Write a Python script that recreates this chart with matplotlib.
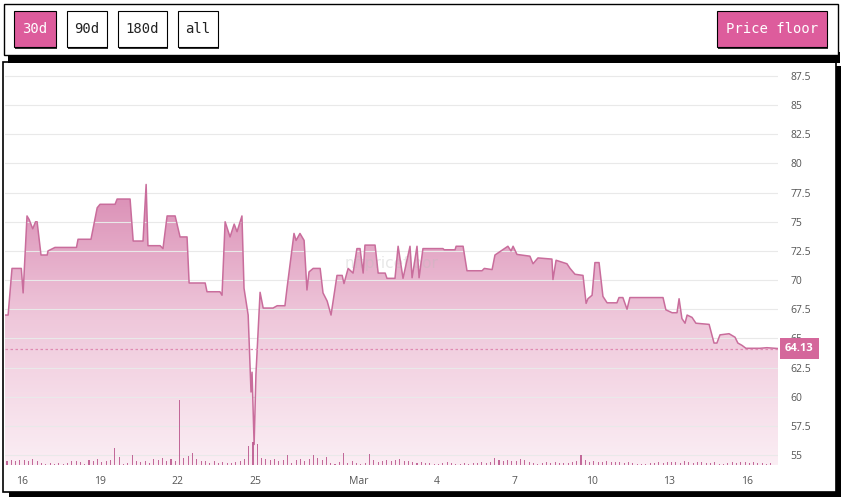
import numpy as np
import matplotlib
matplotlib.use("Agg")
import matplotlib.pyplot as plt
import matplotlib.dates as mdates
from matplotlib.patches import Rectangle
from matplotlib.colors import LinearSegmentedColormap
from datetime import datetime

# floor price, days since 2023-02-15 00:00
price_days = [0.34, 0.46, 0.61, 0.97, 1.04, 1.19, 1.27, 1.41, 1.52, 1.58, 1.73, 1.97, 2.00, 2.27,
              3.10, 3.16, 3.66, 3.90, 4.01, 4.59, 4.67, 5.17, 5.29, 5.67, 5.79, 5.86, 6.21, 6.33,
              6.44, 6.60, 6.91, 7.10, 7.37, 7.45, 8.07, 8.14, 8.64, 8.72, 8.84, 9.03, 9.19, 9.30,
              9.49, 9.57, 9.73, 9.84, 9.88, 9.96, 10.03, 10.19, 10.31, 10.69, 10.85, 11.15, 11.23,
              11.50, 11.58, 11.73, 11.89, 12.00, 12.08, 12.24, 12.51, 12.62, 12.78, 12.93, 13.16,
              13.36, 13.43, 13.59, 13.78, 13.93, 14.05, 14.17, 14.24, 14.63, 14.75, 15.02, 15.09,
              15.40, 15.52, 15.71, 15.98, 16.06, 16.25, 16.33, 16.48, 17.25, 17.30, 17.72, 17.76,
              18.03, 18.18, 18.76, 18.85, 19.15, 19.26, 19.46, 19.76, 19.88, 19.96, 20.11, 20.61,
              20.73, 20.92, 21.46, 21.50, 21.62, 22.04, 22.16, 22.35, 22.66, 22.78, 22.85, 23.01,
              23.12, 23.28, 23.43, 23.59, 23.97, 24.05, 24.20, 24.36, 24.47, 25.75, 25.86, 26.10,
              26.29, 26.37, 26.48, 26.60, 26.68, 26.87, 27.02, 27.53, 27.72, 27.83, 27.95, 28.30,
              28.53, 28.64, 28.80, 28.95, 29.49, 29.76, 30.19]
price_vals = [67.0, 67.0, 71.0, 71.0, 68.9, 75.5, 75.2, 74.4, 75.0, 75.0, 72.15, 72.15, 72.5, 72.8,
              72.8, 73.5, 73.5, 76.2, 76.5, 76.5, 76.95, 76.95, 73.35, 73.35, 78.2, 72.95, 72.95, 72.95,
              72.7, 75.5, 75.5, 73.7, 73.7, 69.75, 69.75, 69.0, 69.0, 68.7, 75.0, 73.7, 74.8, 74.15,
              75.5, 69.3, 67.0, 60.4, 62.1, 55.9, 61.9, 68.95, 67.6, 67.6, 67.8, 67.8, 69.3,
              74.0, 73.4, 74.0, 73.4, 69.15, 70.7, 71.0, 71.0, 68.9, 68.2, 67.0, 70.4,
              70.4, 69.7, 71.0, 70.6, 72.7, 72.7, 70.6, 73.0, 73.0, 70.6, 70.6, 70.15,
              70.15, 72.9, 70.15, 72.9, 70.2, 72.9, 70.2, 72.7, 72.7, 72.6, 72.6, 72.9,
              72.9, 70.8, 70.8, 71.0, 70.9, 72.15, 72.45, 72.9, 72.5, 72.9, 72.2, 72.05,
              71.4, 71.9, 71.8, 70.05, 71.7, 71.4, 71.0, 70.5, 70.4, 68.0, 68.4, 68.7,
              71.5, 71.5, 68.6, 68.05, 68.05, 68.5, 68.5, 67.5, 68.5, 68.5, 67.45, 67.2,
              67.2, 68.4, 66.7, 66.3, 67.0, 66.8, 66.3, 66.2, 64.6, 64.6, 65.3, 65.4,
              65.1, 64.6, 64.4, 64.15, 64.15, 64.2, 64.13]
last_price = 64.13

# sales volume, six 4-hour slots per day starting 2023-02-15
volume = [
    0, 0, 0.8, 1.0, 0.9, 1.1,
    1.0, 0.8, 1.2, 0.9, 0.4, 0.3,
    0.4, 0.3, 0.5, 0.2, 0.4, 0.8,
    0.9, 0.6, 0.3, 1.0, 0.8, 1.2,
    0.7, 0.9, 1.0, 3.4, 1.6, 0.3,
    0.5, 2.0, 0.9, 0.6, 0.8, 0.4,
    1.2, 1.0, 1.4, 0.8, 1.3, 0.9,
    13.0, 1.5, 1.8, 2.4, 1.2, 0.9,
    0.8, 0.5, 0.9, 0.4, 0.7, 0.5,
    0.5, 0.6, 0.9, 1.2, 3.8, 4.6,
    4.2, 1.4, 1.2, 1.0, 1.3, 0.8,
    1.1, 2.0, 0.5, 1.0, 1.3, 0.9,
    1.2, 2.0, 1.4, 1.0, 1.6, 0.5,
    0.3, 0.6, 2.4, 0.5, 0.8, 0.4,
    0.3, 0.5, 2.3, 1.0, 0.6, 0.8,
    1.0, 0.9, 1.1, 1.2, 0.8, 0.9,
    0.6, 0.5, 0.6, 0.4, 0.5, 0.3,
    0.2, 0.5, 0.6, 0.4, 0.3, 0.2,
    0.4, 0.3, 0.5, 0.4, 0.6, 0.5,
    0.6, 1.4, 1.0, 0.8, 1.1, 0.9,
    0.8, 1.2, 1.0, 0.6, 0.5, 0.3,
    0.4, 0.6, 0.5, 0.7, 0.4, 0.5,
    0.5, 0.6, 0.8, 2.0, 1.0, 0.7,
    0.8, 0.7, 0.6, 0.9, 0.7, 0.6,
    0.6, 0.5, 0.7, 0.4, 0.3, 0.2,
    0.3, 0.4, 0.5, 0.6, 0.5, 0.6,
    0.7, 0.6, 0.5, 0.8, 0.6, 0.5,
    0.6, 0.7, 0.5, 0.4, 0.6, 0.3,
    0.2, 0.5, 0.6, 0.5, 0.7, 0.6,
    0.5, 0.6, 0.4, 0.5, 0.3, 0.4,
]

tick_dates = [datetime(2023, 2, 16), datetime(2023, 2, 19), datetime(2023, 2, 22), datetime(2023, 2, 25),
              datetime(2023, 3, 1), datetime(2023, 3, 4), datetime(2023, 3, 7), datetime(2023, 3, 10),
              datetime(2023, 3, 13), datetime(2023, 3, 16)]
tick_labels = ['16', '19', '22', '25', 'Mar', '4', '7', '10', '13', '16']
y_ticks = [55, 57.5, 60, 62.5, 65, 67.5, 70, 72.5, 75, 77.5, 80, 82.5, 85, 87.5]

buttons = ['30d', '90d', '180d', 'all']

W, H = 843, 499
PINK = '#dd5c9c'
LINE = '#c96d9c'

fig = plt.figure(figsize=(W / 100, H / 100), dpi=100)


def px_rect(x0, y0, x1, y1, **kw):
    # rectangle in pixel coords measured from top-left
    r = Rectangle((x0 / W, 1 - y1 / H), (x1 - x0) / W, (y1 - y0) / H,
                  transform=fig.transFigure, **kw)
    fig.add_artist(r)
    return r


# frame and shadows
px_rect(9, 66, 841, 497, facecolor='black', edgecolor='none', zorder=0)
px_rect(3, 62, 836, 492, facecolor='white', edgecolor='black', lw=1.2, zorder=0.5)
px_rect(8, 52, 840, 63, facecolor='black', edgecolor='none', zorder=0.6)
px_rect(4, 4, 838, 55, facecolor='white', edgecolor='black', lw=1.0, zorder=0.7)

# range buttons
btn_x = [(14, 56), (67, 107), (118, 167), (178, 218)]
for i, (lab, (x0, x1)) in enumerate(zip(buttons, btn_x)):
    face = PINK if i == 0 else 'white'
    px_rect(x0 + 1, 12, x1 + 1, 49, facecolor='#333333', edgecolor='none', zorder=0.8)
    px_rect(x0, 11, x1, 47, facecolor=face, edgecolor='black', lw=0.8, zorder=0.9)
    fig.text((x0 + x1) / 2 / W, 1 - 29 / H, lab, ha='center', va='center',
             family='DejaVu Sans Mono', fontsize=10,
             color='white' if i == 0 else '#222222', zorder=1)
px_rect(718, 12, 828, 49, facecolor='#333333', edgecolor='none', zorder=0.8)
px_rect(717, 11, 827, 47, facecolor=PINK, edgecolor='black', lw=0.8, zorder=0.9)
fig.text(772 / W, 1 - 29 / H, 'Price floor', ha='center', va='center',
         family='DejaVu Sans Mono', fontsize=10, color='white', zorder=1)

# chart axes
ax = fig.add_axes([5 / W, 1 - 465 / H, (778 - 5) / W, (465 - 66) / H])
ax.set_zorder(2)
ax.patch.set_alpha(0)

base = mdates.date2num(datetime(2023, 2, 15))
px = base + np.array(price_days)
py = np.array(price_vals)
ylo, yhi = 54.14, 88.36
xlo, xhi = base + 0.34, base + 30.19

# gradient area under the line
cmap = LinearSegmentedColormap.from_list('pk', ['#fbeef4', '#efc8db', '#d888b1'])
grad = np.linspace(0, 1, 256).reshape(-1, 1)
poly = ax.fill_between(px, py, ylo, color='none', lw=0)
im = ax.imshow(grad, aspect='auto', cmap=cmap, origin='lower',
               extent=[xlo, xhi, ylo, 79], zorder=1)
im.set_clip_path(poly.get_paths()[0], transform=ax.transData)
ax.plot(px, py, color=LINE, lw=1.1, zorder=3)

for yv in y_ticks:
    ax.axhline(yv, color='#e9e9e9', lw=0.8, zorder=2)
ax.axhline(last_price, color='#e08ab2', lw=0.9, ls=(0, (2, 2)), zorder=3)

ax.text(0.5, 0.505, 'nftpricefloor', transform=ax.transAxes, ha='center', va='center',
        fontsize=11, color='#bbbbbb', alpha=0.35, zorder=2.5)

# volume bars
ax2 = ax.twinx()
ax2.set_zorder(3)
ax2.patch.set_alpha(0)
vx = base + np.arange(len(volume)) / 6.0 + 1 / 12
ax2.bar(vx, volume, width=0.04, color='#b9528a', alpha=0.85, lw=0)
ax2.set_ylim(0, 80)
ax2.set_xlim(xlo, xhi)
ax2.set_yticks([])
for s in ax2.spines.values():
    s.set_visible(False)

ax.set_xlim(xlo, xhi)
ax.set_ylim(ylo, yhi)
for s in ax.spines.values():
    s.set_visible(False)
ax.yaxis.tick_right()
ax.yaxis.set_label_position('right')
ax.set_yticks(y_ticks)
ax.set_yticklabels([f'{v:g}' for v in y_ticks])
ax.set_xticks([mdates.date2num(d) for d in tick_dates])
ax.set_xticklabels(tick_labels)
ax.tick_params(axis='y', length=0, pad=9, labelsize=7.5, labelcolor='#555555',
               left=False, labelleft=False, right=False, labelright=True)
ax.tick_params(axis='x', length=0, pad=8, labelsize=7.5, labelcolor='#555555')
for t in ax.get_xticklabels() + ax.get_yticklabels():
    t.set_family('Open Sans')

ax.annotate(f'{last_price:.2f}', xy=(1.0, last_price), xycoords=('axes fraction', 'data'),
            xytext=(5, 0), textcoords='offset points', ha='left', va='center',
            fontsize=8, fontweight='bold', color='white', family='Open Sans',
            bbox=dict(boxstyle='square,pad=0.45', fc='#d4679b', ec='none'), zorder=5,
            annotation_clip=False)

fig.savefig('out.png', dpi=100)
